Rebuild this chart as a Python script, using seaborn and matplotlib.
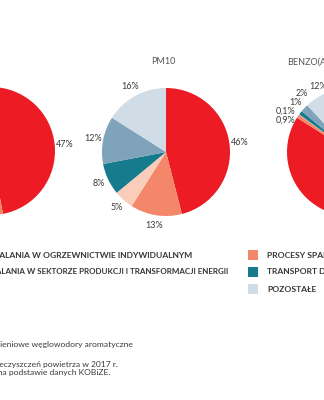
import matplotlib
matplotlib.use("Agg")
import matplotlib.pyplot as plt
import seaborn as sns
from matplotlib.patches import Rectangle

sns.set_theme(style="white")
plt.rcParams['font.family'] = ['Lato', 'DejaVu Sans']

# ---------------- data ----------------
categories = [
    "PROCESY SPALANIA W OGRZEWNICTWIE INDYWIDUALNYM",
    "PROCESY SPALANIA W PRZEMYŚLE",
    "PROCESY SPALANIA W SEKTORZE PRODUKCJI I TRANSFORMACJI ENERGII",
    "TRANSPORT DROGOWY",
    "ROLNICTWO",
    "POZOSTAŁE",
]
palette_hex = ["#ED1C24", "#F4866A", "#F9CDBA", "#167B8C", "#7FA3BA", "#D0DCE6"]
pm25_values = [47, 14, 5, 9, 10, 15]
pm10_values = [46, 13, 5, 8, 12, 16]
bap_values = [84, 0.9, 0.1, 1, 2, 12]
titles = ["PM2,5", "PM10", "BENZO(A)PIREN*"]
footnotes = [
    "*WWA – wielopierścieniowe węglowodory aromatyczne",
    "Źródło: Krajowy bilans emisji zanieczyszczeń powietrza w 2017 r.",
    "Opracowanie własne na podstawie danych KOBiZE.",
]

# ---------------- layout ----------------
W, H = 324, 400
colors = sns.color_palette(palette_hex)
fig = plt.figure(figsize=(W / 100, H / 100), dpi=100)
fig.patch.set_facecolor("white")

def fx(x):
    return x / W

def fy(y):
    return 1 - y / H

R = 64  # radius in px
pie_centers = [(-9, 151), (166, 152), (351, 152)]
series = [pm25_values, pm10_values, bap_values]
# manual label offsets (in radius units) for the crowded small slices of the 3rd pie
manual_label_pos = {2: {1: (-1.03, 0.50), 2: (-1.02, 0.64), 3: (-0.875, 0.77),
                        4: (-0.77, 0.91), 5: (-0.52, 1.02)}}

def fmt(v):
    s = f"{v:g}".replace(".", ",")
    return s + "%"

text_color = "#3a3a3a"
for i, (vals, (cx, cy)) in enumerate(zip(series, pie_centers)):
    half = 1.25 * R
    ax = fig.add_axes([fx(cx - half), fy(cy + half), 2 * half / W, 2 * half / H])
    wedges, texts = ax.pie(
        vals, colors=colors, startangle=90, counterclock=False,
        labels=[fmt(v) for v in vals], labeldistance=1.16,
        wedgeprops=dict(linewidth=0),
        textprops=dict(fontsize=6.5, color=text_color),
    )
    for t in texts:
        t.set_ha("center")
        t.set_va("center")
    for k, pos in manual_label_pos.get(i, {}).items():
        texts[k].set_position(pos)
    ax.set_xlim(-1.25, 1.25)
    ax.set_ylim(-1.25, 1.25)

# titles
title_font = dict(ha="center", va="center", fontsize=6.5, color="#555555")
fig.text(fx(-25), fy(62), titles[0], **title_font)
fig.text(fx(163), fy(62), titles[1], **title_font)
fig.text(fx(287), fy(62), titles[2], **dict(title_font, ha="left"))

# legend (two columns)
left_rows = [0, 2, 4]
right_rows = [1, 3, 5]
row_y = [255, 272, 289]
LEG_FS = 6.1
leg_font = dict(fontweight="bold", color="#363636", va="center")
renderer = fig.canvas.get_renderer()
# first row ends at x=192 px; the column is left-aligned at the same start
t0 = fig.text(fx(192), fy(row_y[0]), categories[left_rows[0]], ha="right",
              fontsize=LEG_FS, **leg_font)
x_start_px = t0.get_window_extent(renderer).x0
t0.remove()
row_end_targets = {1: 229}  # second row of the left column ends at 229 px
for r, (k, y) in enumerate(zip(left_rows, row_y)):
    t = fig.text(fx(x_start_px), fy(y), categories[k], ha="left", fontsize=LEG_FS, **leg_font)
    if r in row_end_targets:
        w = t.get_window_extent(renderer).width
        t.set_fontsize(LEG_FS * (row_end_targets[r] - x_start_px) / w)
    fig.patches.append(Rectangle((fx(x_start_px - 19), fy(y + 5)), 10 / W, 10 / H,
                                 transform=fig.transFigure, facecolor=colors[k],
                                 edgecolor="none"))
for k, y in zip(right_rows, row_y):
    fig.patches.append(Rectangle((fx(248), fy(y + 5)), 10 / W, 10 / H,
                                 transform=fig.transFigure, facecolor=colors[k],
                                 edgecolor="none"))
    fig.text(fx(267), fy(y), categories[k], ha="left", fontsize=LEG_FS, **leg_font)

# footnotes
foot_font = dict(fontsize=6.1, color="#3a3a3a", va="center", ha="right")
fig.text(fx(133), fy(345), footnotes[0], **foot_font)
fig.text(fx(118), fy(364), footnotes[1], **foot_font)
fig.text(fx(110), fy(373), footnotes[2], **foot_font)

fig.savefig("out.png", dpi=100, facecolor="white")
